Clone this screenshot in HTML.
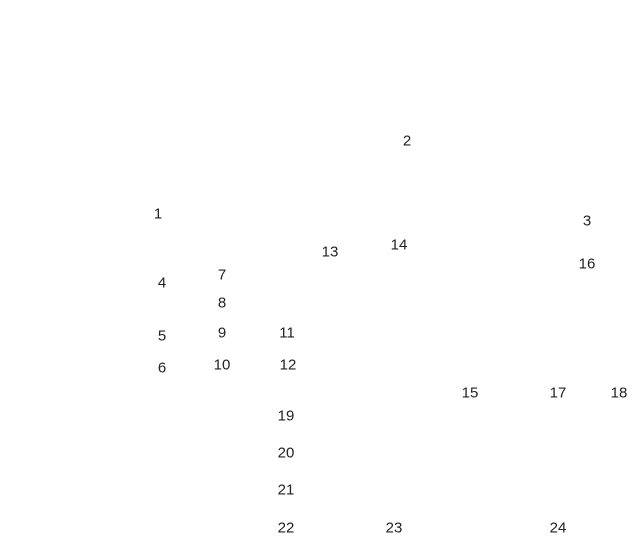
<!DOCTYPE html>
<html><head><meta charset="utf-8"><style>
body{margin:0;width:634px;height:541px;background:#fff;position:relative;overflow:hidden;font-family:"Liberation Sans",sans-serif;font-size:15px;color:#222}
div{position:absolute;transform:translate(-50%,-50%);line-height:1}
</style></head><body>
<div style="left:407px;top:141px">2</div>
<div style="left:158px;top:214px">1</div>
<div style="left:587px;top:221px">3</div>
<div style="left:399px;top:245px">14</div>
<div style="left:330px;top:252px">13</div>
<div style="left:587px;top:264px">16</div>
<div style="left:222px;top:275px">7</div>
<div style="left:162px;top:283px">4</div>
<div style="left:222px;top:303px">8</div>
<div style="left:222px;top:333px">9</div>
<div style="left:287px;top:333px">11</div>
<div style="left:162px;top:336px">5</div>
<div style="left:222px;top:365px">10</div>
<div style="left:288px;top:365px">12</div>
<div style="left:162px;top:368px">6</div>
<div style="left:470px;top:393px">15</div>
<div style="left:558px;top:393px">17</div>
<div style="left:619px;top:393px">18</div>
<div style="left:286px;top:416px">19</div>
<div style="left:286px;top:453px">20</div>
<div style="left:286px;top:490px">21</div>
<div style="left:286px;top:528px">22</div>
<div style="left:394px;top:528px">23</div>
<div style="left:558px;top:528px">24</div>
</body></html>
